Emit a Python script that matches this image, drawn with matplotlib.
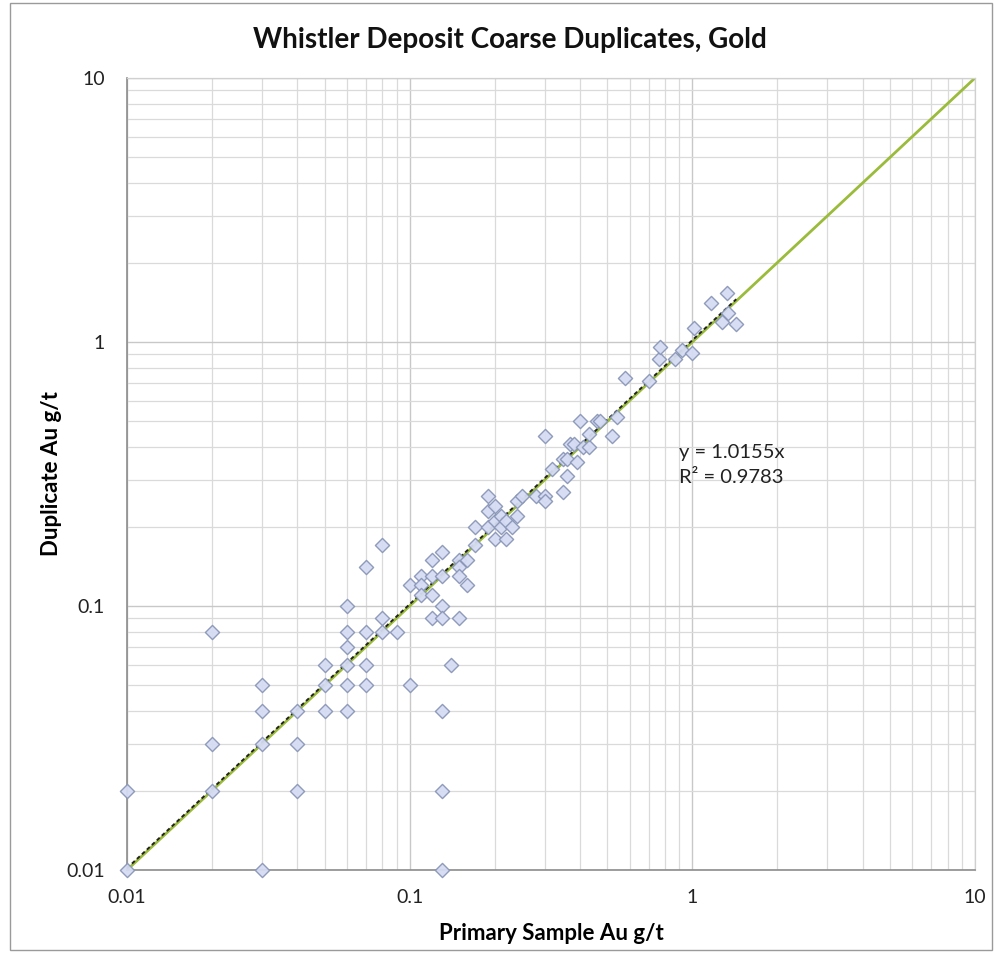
import matplotlib
matplotlib.use("Agg")
import matplotlib.pyplot as plt
import numpy as np
from matplotlib.patches import Rectangle
from matplotlib.ticker import LogLocator, FixedLocator, NullFormatter

plt.rcParams['font.family'] = ['Lato', 'DejaVu Sans']

primary = [0.01, 0.01,
           0.02, 0.02, 0.02,
           0.03, 0.03, 0.03, 0.03,
           0.04, 0.04, 0.04,
           0.05, 0.05, 0.05,
           0.06, 0.06, 0.06, 0.06, 0.06, 0.06,
           0.07, 0.07, 0.07, 0.07,
           0.08, 0.08, 0.08,
           0.09,
           0.10, 0.10,
           0.11, 0.11, 0.11,
           0.12, 0.12, 0.12, 0.12,
           0.13, 0.13, 0.13, 0.13, 0.13, 0.13, 0.13,
           0.14,
           0.15, 0.15, 0.15, 0.15,
           0.16, 0.16,
           0.17, 0.17,
           0.19, 0.19, 0.19,
           0.20, 0.20, 0.20,
           0.21, 0.21,
           0.22, 0.22,
           0.23,
           0.24, 0.24, 0.25,
           0.28, 0.30, 0.30, 0.30,
           0.32, 0.35, 0.35, 0.36, 0.36, 0.37, 0.38, 0.39,
           0.41, 0.40, 0.43, 0.43, 0.46, 0.47, 0.52, 0.54,
           0.58, 0.70, 0.76, 0.77, 0.87, 0.92, 1.00, 1.01,
           1.16, 1.27, 1.33, 1.34, 1.43]
duplicate = [0.01, 0.02,
             0.08, 0.03, 0.02,
             0.05, 0.04, 0.03, 0.01,
             0.04, 0.03, 0.02,
             0.06, 0.05, 0.04,
             0.10, 0.08, 0.07, 0.06, 0.05, 0.04,
             0.14, 0.08, 0.06, 0.05,
             0.17, 0.09, 0.08,
             0.08,
             0.12, 0.05,
             0.13, 0.12, 0.11,
             0.15, 0.13, 0.11, 0.09,
             0.16, 0.13, 0.10, 0.09, 0.04, 0.02, 0.01,
             0.06,
             0.15, 0.14, 0.13, 0.09,
             0.15, 0.12,
             0.20, 0.17,
             0.26, 0.23, 0.20,
             0.24, 0.21, 0.18,
             0.22, 0.20,
             0.21, 0.18,
             0.20,
             0.22, 0.25, 0.26,
             0.26, 0.26, 0.25, 0.44,
             0.33, 0.36, 0.27, 0.36, 0.31, 0.41, 0.41, 0.35,
             0.40, 0.50, 0.40, 0.45, 0.50, 0.50, 0.44, 0.52,
             0.73, 0.71, 0.86, 0.96, 0.86, 0.93, 0.91, 1.13,
             1.41, 1.19, 1.53, 1.29, 1.17]

slope = 1.0155
r2 = 0.9783
axis_limits = [0.01, 10]
major_ticks = [0.01, 0.1, 1, 10]
major_labels = ["0.01", "0.1", "1", "10"]

fig = plt.figure(figsize=(9.95, 9.55), dpi=100)
ax = fig.add_axes([127/995, 1-870/955, 848/995, 792/955])
ax.set_xscale('log')
ax.set_yscale('log')
ax.set_xlim(axis_limits)
ax.set_ylim(axis_limits)

# grid
ax.xaxis.set_major_locator(FixedLocator(major_ticks))
ax.yaxis.set_major_locator(FixedLocator(major_ticks))
ax.xaxis.set_minor_locator(LogLocator(base=10, subs=np.arange(2, 10)))
ax.yaxis.set_minor_locator(LogLocator(base=10, subs=np.arange(2, 10)))
ax.xaxis.set_minor_formatter(NullFormatter())
ax.yaxis.set_minor_formatter(NullFormatter())
ax.set_xticklabels(major_labels)
ax.set_yticklabels(major_labels)
ax.grid(True, which='major', color='#c8c8c8', lw=1.0)
ax.grid(True, which='minor', color='#dadada', lw=0.9)
ax.set_axisbelow(True)
ax.tick_params(which='both', length=0, labelsize=14, colors='#222222')
ax.tick_params(axis='x', pad=14)
ax.tick_params(axis='y', pad=16)

for side in ['top', 'right']:
    ax.spines[side].set_color('#d0d0d0')
    ax.spines[side].set_linewidth(0.9)
for side in ['left', 'bottom']:
    ax.spines[side].set_color('#8c8c8c')
    ax.spines[side].set_linewidth(1.2)

# 1:1 line
ax.plot(axis_limits, axis_limits, color='#9bbb3b', lw=2.0, zorder=2)
# trend line
xt = np.array([min(primary), max(primary)])
ax.plot(xt, slope * xt, color='#222222', lw=1.4, ls=(0, (2, 1.5)), zorder=3)

ax.scatter(primary, duplicate, marker='D', s=52, facecolor='#d5dcf3',
           edgecolor='#8a97b8', linewidths=1.0, zorder=4, alpha=0.95,
           clip_on=False)

ax.text(0.90, 0.342, f"y = {slope:.4f}x\nR² = {r2:.4f}", fontsize=14.5,
        color='#222222', transform=ax.transData, va='center', ha='left',
        linespacing=1.55)

fig.text(510/995, 1-40/955, "Whistler Deposit Coarse Duplicates, Gold",
         ha='center', va='center', fontsize=20, fontweight='bold', color='#111111')
ax.set_xlabel("Primary Sample Au g/t", fontsize=16, fontweight='bold', labelpad=12)
ax.set_ylabel("Duplicate Au g/t", fontsize=16, fontweight='bold')
ax.yaxis.set_label_coords((62-127)/848, 0.5)

fig.patches.append(Rectangle((10/995, 5/955), 982/995, 947/955,
                             transform=fig.transFigure, fill=False,
                             edgecolor='#9a9a9a', lw=1.0))

fig.savefig("out.png", dpi=100, facecolor='white')
